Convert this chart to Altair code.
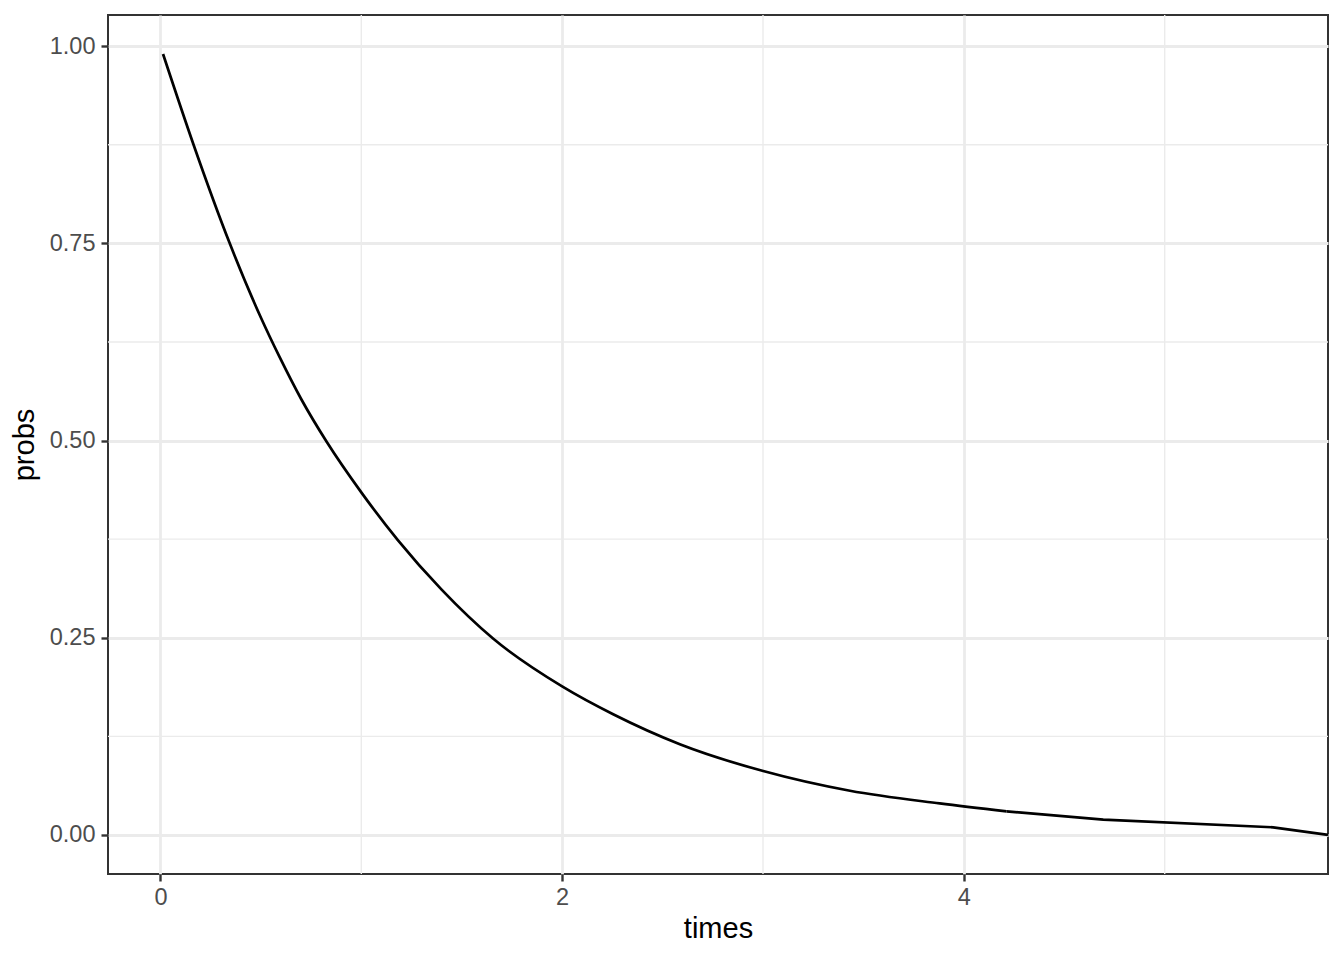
import altair as alt
import pandas as pd

times = [0.013, 0.165, 0.345, 0.50, 0.593, 0.70, 0.83, 1.001, 1.183, 1.40,
         1.656, 2.002, 2.254, 2.586, 3.001, 3.433, 3.88, 4.213, 4.694, 5.54, 5.813]
probs = [0.990, 0.875, 0.750, 0.656, 0.606, 0.553, 0.4975, 0.434, 0.3735, 0.311,
         0.249, 0.188, 0.153, 0.115, 0.081, 0.056, 0.040, 0.030, 0.0194, 0.0097, 0.0]
# points from the tail on are joined by straight segments
tail_start = 17

x_breaks = [0, 2, 4]
x_minor = [1, 3, 5]
y_breaks = [0, 0.25, 0.5, 0.75, 1.0]
y_minor = [0.125, 0.375, 0.625, 0.875]

x_domain = [-0.261, 5.813]
y_domain = [-0.0495, 1.0395]

df_smooth = pd.DataFrame({"times": times[:tail_start + 1], "probs": probs[:tail_start + 1]})
df_tail = pd.DataFrame({"times": times[tail_start:], "probs": probs[tail_start:]})
dfx = pd.DataFrame({"v": x_minor})
dfy = pd.DataFrame({"v": y_minor})

xs = alt.Scale(domain=x_domain, nice=False, zero=False)
ys = alt.Scale(domain=y_domain, nice=False, zero=False)

common = dict(grid=True, gridColor="#ebebeb", gridWidth=2.8, domain=False, tickSize=7,
              tickWidth=2.4, tickColor="#333333", labelFontSize=23.5,
              labelColor="#4d4d4d", labelFont="Liberation Sans",
              titleFont="Liberation Sans", titleFontSize=29,
              titleFontWeight="normal", titleColor="black")
x_axis = alt.Axis(values=x_breaks, format="d", labelPadding=4, titlePadding=6, **common)
y_axis = alt.Axis(values=y_breaks, format=".2f", labelPadding=6, titlePadding=10, **common)

minor_x = alt.Chart(dfx).mark_rule(color="#ebebeb", strokeWidth=1.4).encode(
    x=alt.X("v:Q", scale=xs, axis=x_axis, title="times")
)
minor_y = alt.Chart(dfy).mark_rule(color="#ebebeb", strokeWidth=1.4).encode(
    y=alt.Y("v:Q", scale=ys, axis=y_axis, title="probs")
)

def curve(d, interp):
    return alt.Chart(d).mark_line(color="black", strokeWidth=2.7, interpolate=interp).encode(
        x=alt.X("times:Q", scale=xs, axis=x_axis, title="times"),
        y=alt.Y("probs:Q", scale=ys, axis=y_axis, title="probs"),
    )

chart = alt.layer(minor_x, minor_y, curve(df_smooth, "monotone"), curve(df_tail, "linear")).properties(
    width=1220, height=859,
    autosize=alt.AutoSizeParams(type="none"),
    padding={"left": 100, "top": 7, "right": 8, "bottom": 80},
).configure_view(stroke="#333333", strokeWidth=2)

chart.save("out.html", embed_options={"renderer": "svg", "actions": False})
